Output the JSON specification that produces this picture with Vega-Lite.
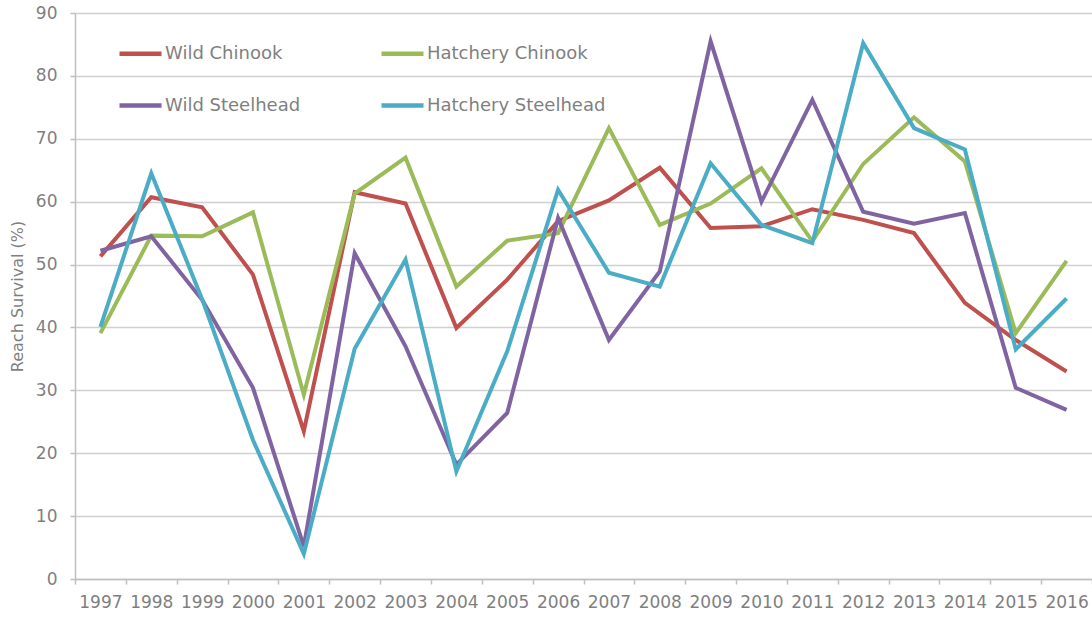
{
  "$schema": "https://vega.github.io/schema/vega-lite/v6.json",
  "width": 1017,
  "height": 566,
  "autosize": "none",
  "padding": {"left": 75, "top": 13, "right": 0, "bottom": 39},
  "background": "white",
  "datasets": {
    "survival": [
      {"year": "1997", "series": "Wild Chinook", "value": 51.3},
      {"year": "1998", "series": "Wild Chinook", "value": 60.7},
      {"year": "1999", "series": "Wild Chinook", "value": 59.1},
      {"year": "2000", "series": "Wild Chinook", "value": 48.4},
      {"year": "2001", "series": "Wild Chinook", "value": 23.5},
      {"year": "2002", "series": "Wild Chinook", "value": 61.5},
      {"year": "2003", "series": "Wild Chinook", "value": 59.7},
      {"year": "2004", "series": "Wild Chinook", "value": 39.9},
      {"year": "2005", "series": "Wild Chinook", "value": 47.6},
      {"year": "2006", "series": "Wild Chinook", "value": 56.9},
      {"year": "2007", "series": "Wild Chinook", "value": 60.2},
      {"year": "2008", "series": "Wild Chinook", "value": 65.4},
      {"year": "2009", "series": "Wild Chinook", "value": 55.8},
      {"year": "2010", "series": "Wild Chinook", "value": 56.1},
      {"year": "2011", "series": "Wild Chinook", "value": 58.8},
      {"year": "2012", "series": "Wild Chinook", "value": 57.1},
      {"year": "2013", "series": "Wild Chinook", "value": 55.0},
      {"year": "2014", "series": "Wild Chinook", "value": 43.9},
      {"year": "2015", "series": "Wild Chinook", "value": 38.0},
      {"year": "2016", "series": "Wild Chinook", "value": 33.0},
      {"year": "1997", "series": "Hatchery Chinook", "value": 39.1},
      {"year": "1998", "series": "Hatchery Chinook", "value": 54.6},
      {"year": "1999", "series": "Hatchery Chinook", "value": 54.5},
      {"year": "2000", "series": "Hatchery Chinook", "value": 58.3},
      {"year": "2001", "series": "Hatchery Chinook", "value": 29.3},
      {"year": "2002", "series": "Hatchery Chinook", "value": 61.3},
      {"year": "2003", "series": "Hatchery Chinook", "value": 67.0},
      {"year": "2004", "series": "Hatchery Chinook", "value": 46.5},
      {"year": "2005", "series": "Hatchery Chinook", "value": 53.8},
      {"year": "2006", "series": "Hatchery Chinook", "value": 55.0},
      {"year": "2007", "series": "Hatchery Chinook", "value": 71.7},
      {"year": "2008", "series": "Hatchery Chinook", "value": 56.3},
      {"year": "2009", "series": "Hatchery Chinook", "value": 59.7},
      {"year": "2010", "series": "Hatchery Chinook", "value": 65.3},
      {"year": "2011", "series": "Hatchery Chinook", "value": 53.7},
      {"year": "2012", "series": "Hatchery Chinook", "value": 66.0},
      {"year": "2013", "series": "Hatchery Chinook", "value": 73.4},
      {"year": "2014", "series": "Hatchery Chinook", "value": 66.4},
      {"year": "2015", "series": "Hatchery Chinook", "value": 39.1},
      {"year": "2016", "series": "Hatchery Chinook", "value": 50.6},
      {"year": "1997", "series": "Wild Steelhead", "value": 52.2},
      {"year": "1998", "series": "Wild Steelhead", "value": 54.5},
      {"year": "1999", "series": "Wild Steelhead", "value": 44.4},
      {"year": "2000", "series": "Wild Steelhead", "value": 30.4},
      {"year": "2001", "series": "Wild Steelhead", "value": 5.2},
      {"year": "2002", "series": "Wild Steelhead", "value": 51.8},
      {"year": "2003", "series": "Wild Steelhead", "value": 37.0},
      {"year": "2004", "series": "Wild Steelhead", "value": 18.2},
      {"year": "2005", "series": "Wild Steelhead", "value": 26.4},
      {"year": "2006", "series": "Wild Steelhead", "value": 57.4},
      {"year": "2007", "series": "Wild Steelhead", "value": 38.0},
      {"year": "2008", "series": "Wild Steelhead", "value": 48.9},
      {"year": "2009", "series": "Wild Steelhead", "value": 85.5},
      {"year": "2010", "series": "Wild Steelhead", "value": 60.0},
      {"year": "2011", "series": "Wild Steelhead", "value": 76.2},
      {"year": "2012", "series": "Wild Steelhead", "value": 58.4},
      {"year": "2013", "series": "Wild Steelhead", "value": 56.5},
      {"year": "2014", "series": "Wild Steelhead", "value": 58.2},
      {"year": "2015", "series": "Wild Steelhead", "value": 30.4},
      {"year": "2016", "series": "Wild Steelhead", "value": 26.9},
      {"year": "1997", "series": "Hatchery Steelhead", "value": 40.1},
      {"year": "1998", "series": "Hatchery Steelhead", "value": 64.5},
      {"year": "1999", "series": "Hatchery Steelhead", "value": 44.5},
      {"year": "2000", "series": "Hatchery Steelhead", "value": 22.1},
      {"year": "2001", "series": "Hatchery Steelhead", "value": 4.0},
      {"year": "2002", "series": "Hatchery Steelhead", "value": 36.6},
      {"year": "2003", "series": "Hatchery Steelhead", "value": 50.8},
      {"year": "2004", "series": "Hatchery Steelhead", "value": 17.1},
      {"year": "2005", "series": "Hatchery Steelhead", "value": 36.2},
      {"year": "2006", "series": "Hatchery Steelhead", "value": 61.9},
      {"year": "2007", "series": "Hatchery Steelhead", "value": 48.7},
      {"year": "2008", "series": "Hatchery Steelhead", "value": 46.5},
      {"year": "2009", "series": "Hatchery Steelhead", "value": 66.1},
      {"year": "2010", "series": "Hatchery Steelhead", "value": 56.3},
      {"year": "2011", "series": "Hatchery Steelhead", "value": 53.4},
      {"year": "2012", "series": "Hatchery Steelhead", "value": 85.2},
      {"year": "2013", "series": "Hatchery Steelhead", "value": 71.7},
      {"year": "2014", "series": "Hatchery Steelhead", "value": 68.3},
      {"year": "2015", "series": "Hatchery Steelhead", "value": 36.5},
      {"year": "2016", "series": "Hatchery Steelhead", "value": 44.6}
    ]
  },
  "data": {"name": "survival"},
  "config": {
    "font": "DejaVu Sans",
    "view": {"stroke": null},
    "axis": {
      "labelColor": "#7f7f7f",
      "titleColor": "#7f7f7f",
      "labelFont": "DejaVu Sans",
      "titleFont": "DejaVu Sans",
      "domainColor": "#bfbfbf",
      "tickColor": "#bfbfbf",
      "gridColor": "#d0d0d0",
      "domainWidth": 1.5,
      "tickWidth": 1.5,
      "gridWidth": 1.5
    }
  },
  "mark": {"type": "line", "strokeWidth": 4},
  "encoding": {
    "x": {
      "field": "year",
      "type": "ordinal",
      "scale": {"type": "band", "paddingInner": 0, "paddingOuter": 0},
      "axis": {
        "title": null,
        "labelAngle": 0,
        "labelFontSize": 17,
        "labelPadding": 10,
        "tickSize": 5,
        "tickBand": "extent",
        "grid": false
      }
    },
    "y": {
      "field": "value",
      "type": "quantitative",
      "scale": {"domain": [0, 90], "nice": false},
      "axis": {
        "title": "Reach Survival (%)",
        "titleFontSize": 16,
        "titleFontWeight": "normal",
        "titlePadding": 10,
        "values": [0, 10, 20, 30, 40, 50, 60, 70, 80, 90],
        "labelFontSize": 17,
        "labelPadding": 13,
        "tickSize": 5,
        "grid": true,
        "domain": true
      }
    },
    "color": {
      "field": "series",
      "type": "nominal",
      "scale": {
        "domain": ["Wild Chinook", "Wild Steelhead", "Hatchery Chinook", "Hatchery Steelhead"],
        "range": ["#c0504d", "#8064a2", "#9bbb59", "#4bacc6"]
      },
      "legend": {
        "title": null,
        "orient": "none",
        "legendX": 42,
        "legendY": 17,
        "columns": 2,
        "columnPadding": 71,
        "rowPadding": 19,
        "padding": 0,
        "symbolType": "stroke",
        "symbolSize": 1764,
        "symbolStrokeWidth": 4.5,
        "labelOffset": 1,
        "labelFontSize": 18,
        "labelColor": "#7f7f7f",
        "labelFont": "DejaVu Sans",
        "labelLimit": 400
      }
    }
  }
}
